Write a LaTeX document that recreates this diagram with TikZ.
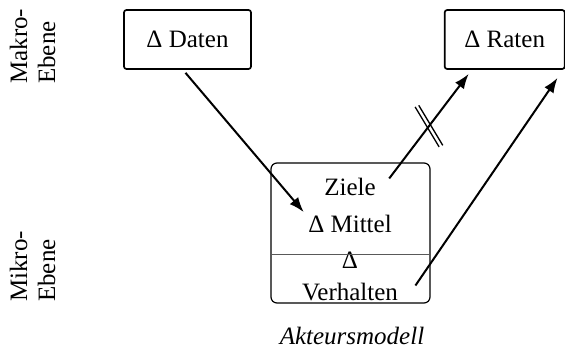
\documentclass[tikz,border=0pt]{standalone}
\usepackage{fontspec}
\setmainfont{Liberation Serif}
\usetikzlibrary{positioning}
\usetikzlibrary{arrows.meta}
\tikzset{ebene box/.style={rectangle,rounded corners=2.5pt,draw,line width=1.7pt,minimum height=59pt,inner sep=0pt},
         ebene label/.style={rotate=90,align=left,inner sep=0pt},
         wirkung/.style={line width=2pt,-{Latex[length=15pt,width=11pt]}},
            }

\begin{document}
\begin{tikzpicture}[x=1pt,y=-1pt,font=\fontsize{25}{28}\selectfont]
\useasboundingbox (0,0) rectangle (565,348);
 \node[ebene box,minimum width=127pt] (dat) at (187.5,39.5) {Δ Daten};
 \node[ebene box,minimum width=120pt] (rat)[right=192pt of dat] {Δ Raten};
 \node[draw,rounded corners=6pt,line width=1.2pt,minimum width=159pt,minimum height=140pt] (akt) at (350.5,233) {};
    \node[anchor=base] (zie) at (350,195) {Ziele};
    \node[anchor=base] (mit) at (350,232) {Δ Mittel};
    \node[anchor=base] (dvh) at (350,268) {Δ};
    \node[anchor=base] (ver) at (350,300) {Verhalten};
 \coordinate (trenn) at (0,254);
 \draw[line width=0.9pt,black!65] (akt.west |- trenn) -- (akt.east |- trenn);
 \node[anchor=base,font=\fontsize{25}{28}\selectfont\itshape] (mod) at (352,344) {Akteursmodell};

 \node[ebene label,anchor=west] (mak) at (32.5,84) {Makro-\\Ebene};
 \node[ebene label,anchor=west] (mik) at (32.5,302) {Mikro-\\Ebene};

    \draw[wirkung]
        ([xshift=-2pt,yshift=-3pt]dat.south) -- ([xshift=-1pt,yshift=-1pt]mit.north west);
    \draw[wirkung]
        ([xshift=10pt,yshift=8pt]zie.east) -- coordinate[pos=0.5] (cut) ([xshift=-36pt,yshift=-4pt]rat.south);
    \draw[wirkung]
        ([xshift=14pt,yshift=6pt]ver.east) -- ([xshift=-8pt,yshift=-8pt]rat.south east);
 % zwei Striche
 \draw[line width=1.3pt] ([shift={(-13.8,-19.2)}]cut) -- ([shift={(10.2,20.8)}]cut);
 \draw[line width=1.3pt] ([shift={(-10.2,-20.8)}]cut) -- ([shift={(13.8,19.2)}]cut);

\end{tikzpicture}
\end{document}
